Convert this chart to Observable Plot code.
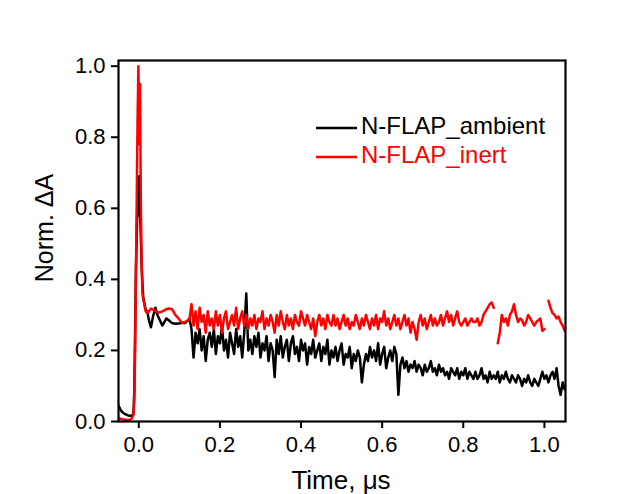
<!DOCTYPE html>
<html><head><meta charset="utf-8">
<script src="https://cdn.jsdelivr.net/npm/d3@7"></script>
<script src="https://cdn.jsdelivr.net/npm/@observablehq/plot@0.6"></script>
<style>body{margin:0;background:#fff}</style>
</head><body><div id="chart"></div>
<script>
// Early (rise + peak) part, irregular time samples (µs)
const earlyTime = [-0.05,-0.046,-0.042,-0.038,-0.034,-0.03,-0.026,-0.022,-0.018,-0.015,-0.013,-0.011,-0.009,-0.007,-0.005,-0.003,-0.001,0.001,0.003,0.005,0.007,0.009,0.011,0.014,0.017,0.021,0.025,0.03,0.035,0.041,0.046,0.052,0.058,0.063,0.068,0.074,0.082,0.09,0.098,0.106,0.114,0.12,0.125];
const ambientEarly = [0.045,0.035,0.028,0.024,0.021,0.019,0.017,0.016,0.016,0.018,0.025,0.09,0.26,0.43,0.52,0.63,0.58,0.69,0.60,0.52,0.44,0.39,0.35,0.33,0.315,0.31,0.285,0.265,0.295,0.32,0.30,0.285,0.27,0.28,0.29,0.285,0.277,0.275,0.276,0.277,0.277,0.283,0.29];
const inertEarly = [0.011,0.008,0.006,0.006,0.005,0.004,0.004,0.005,0.008,0.014,0.02,0.06,0.2,0.42,0.63,0.85,1.0,0.78,0.95,0.62,0.45,0.36,0.345,0.33,0.31,0.305,0.31,0.318,0.315,0.31,0.308,0.307,0.31,0.313,0.316,0.318,0.316,0.30,0.29,0.278,0.28,0.284,0.288];

// Late (noisy) part, sampled every 0.005 µs from 0.13 µs
const lateStart = 0.13, lateStep = 0.005;
const ambientLate = [
0.26,0.18,0.25,0.22,0.26,0.20,0.24,0.17,0.23,0.25,
0.21,0.26,0.19,0.24,0.22,0.27,0.20,0.23,0.18,0.25,
0.22,0.19,0.26,0.21,0.24,0.18,0.25,0.36,0.20,0.23,
0.19,0.24,0.21,0.25,0.18,0.22,0.20,0.24,0.17,0.22,
0.20,0.125,0.23,0.19,0.24,0.18,0.21,0.23,0.17,0.22,
0.24,0.19,0.21,0.17,0.23,0.20,0.22,0.16,0.21,0.19,
0.23,0.18,0.20,0.22,0.17,0.21,0.19,0.23,0.16,0.20,
0.18,0.21,0.17,0.20,0.22,0.16,0.19,0.18,0.21,0.15,
0.19,0.17,0.20,0.18,0.11,0.16,0.19,0.17,0.21,0.18,
0.20,0.17,0.22,0.16,0.19,0.21,0.15,0.18,0.20,0.17,
0.21,0.19,0.075,0.16,0.18,0.15,0.17,0.14,0.16,0.15,
0.17,0.14,0.16,0.15,0.13,0.16,0.14,0.15,0.17,0.14,
0.15,0.13,0.16,0.14,0.15,0.13,0.14,0.12,0.15,0.14,
0.13,0.15,0.12,0.14,0.13,0.15,0.12,0.14,0.13,0.12,
0.14,0.12,0.13,0.15,0.12,0.13,0.11,0.14,0.12,0.13,
0.12,0.14,0.11,0.13,0.12,0.14,0.12,0.11,0.13,0.12,
0.11,0.13,0.12,0.10,0.12,0.11,0.13,0.11,0.10,0.12,
0.11,0.10,0.12,0.14,0.12,0.13,0.11,0.13,0.14,0.12,
0.15,0.10,0.075,0.11,0.09];
const inertLate = [
0.33,0.27,0.31,0.26,0.32,0.28,0.30,0.25,0.31,0.27,
0.29,0.26,0.31,0.27,0.30,0.25,0.29,0.31,0.26,0.28,
0.30,0.27,0.32,0.26,0.29,0.31,0.27,0.30,0.26,0.29,
0.27,0.30,0.26,0.29,0.28,0.31,0.26,0.29,0.27,0.30,
0.28,0.25,0.30,0.27,0.31,0.28,0.26,0.30,0.27,0.29,
0.26,0.30,0.28,0.27,0.31,0.29,0.27,0.30,0.28,0.26,
0.29,0.24,0.28,0.30,0.27,0.29,0.26,0.30,0.28,0.27,
0.30,0.27,0.29,0.26,0.28,0.30,0.27,0.29,0.26,0.28,
0.27,0.30,0.28,0.26,0.29,0.27,0.30,0.28,0.26,0.29,
0.27,0.30,0.26,0.29,0.28,0.31,0.27,0.29,0.26,0.28,
0.30,0.27,0.29,0.26,0.28,0.30,0.27,0.29,0.25,0.28,
0.26,0.23,0.28,0.30,0.27,0.29,0.26,0.28,0.30,0.27,
0.29,0.27,0.28,0.30,0.27,0.29,0.31,0.28,0.30,0.27,
0.29,0.31,0.28,0.27,0.28,0.29,0.27,0.28,0.29,0.28,
0.28,0.29,0.27,0.28,0.30,0.31,0.32,0.33,0.335,0.32,
null,0.22,0.25,0.30,0.28,0.29,0.27,0.30,0.31,0.33,
0.30,0.28,0.29,0.285,0.27,0.28,0.30,0.29,0.28,0.27,
0.28,0.285,0.29,0.255,0.26,null,0.34,0.32,0.305,0.30,
0.29,0.295,0.28,0.27,0.255];

const xTicks = [0, 0.2, 0.4, 0.6, 0.8, 1.0];
const yTicks = [0, 0.2, 0.4, 0.6, 0.8, 1.0];
const seriesNames = ["N-FLAP_ambient", "N-FLAP_inert"];
const seriesColors = ["#000000", "#ff0000"];

function build(early, late) {
  const rows = early.map((v, i) => ({t: earlyTime[i], v}));
  late.forEach((v, i) => rows.push({t: +(lateStart + i * lateStep).toFixed(4), v: v == null ? NaN : v}));
  return rows;
}
const ambient = build(ambientEarly, ambientLate);
const inert = build(inertEarly, inertLate);

const fmt = d3.format(".1f");
const ff = "'Liberation Sans', Arial, sans-serif";
const chart = Plot.plot({
  width: 641, height: 494,
  marginLeft: 118, marginRight: 76, marginTop: 60, marginBottom: 73,
  style: {fontFamily: ff, fontSize: "22px", background: "white", color: "black"},
  x: {domain: [-0.05, 1.052]},
  y: {domain: [0, 1.016]},
  marks: [
    Plot.line(ambient, {x: "t", y: "v", stroke: seriesColors[0], strokeWidth: 2.5, clip: true}),
    Plot.line(inert, {x: "t", y: "v", stroke: seriesColors[1], strokeWidth: 2.5, clip: true}),
    Plot.axisX({ticks: xTicks, tickFormat: fmt, tickSize: 7, tickPadding: 8, label: null, strokeWidth: 2}),
    Plot.axisY({ticks: yTicks, tickFormat: fmt, tickSize: 7, tickPadding: 6, label: null, strokeWidth: 2}),
    Plot.frame({stroke: "black", strokeWidth: 2.2})
  ]
});
document.getElementById("chart").appendChild(chart);

const svg = d3.select(chart);
svg.append("text").attr("x", 341).attr("y", 489).attr("text-anchor", "middle")
  .attr("font-size", 26).attr("font-family", ff).attr("fill", "black").text("Time, μs");
svg.append("text").attr("transform", "translate(53,228) rotate(-90)").attr("text-anchor", "middle")
  .attr("font-size", 25).attr("font-family", ff).attr("fill", "black").text("Norm. ΔA");

const lg = svg.append("g");
seriesNames.forEach((name, i) => {
  const y = 128 + i * 29;
  lg.append("line").attr("x1", 316).attr("x2", 357).attr("y1", y).attr("y2", y)
    .attr("stroke", seriesColors[i]).attr("stroke-width", 2.5);
  lg.append("text").attr("x", 361).attr("y", y + 6).attr("text-anchor", "start")
    .attr("font-size", 24).attr("font-family", ff)
    .attr("fill", seriesColors[i]).text(name);
});
</script>
</body></html>
